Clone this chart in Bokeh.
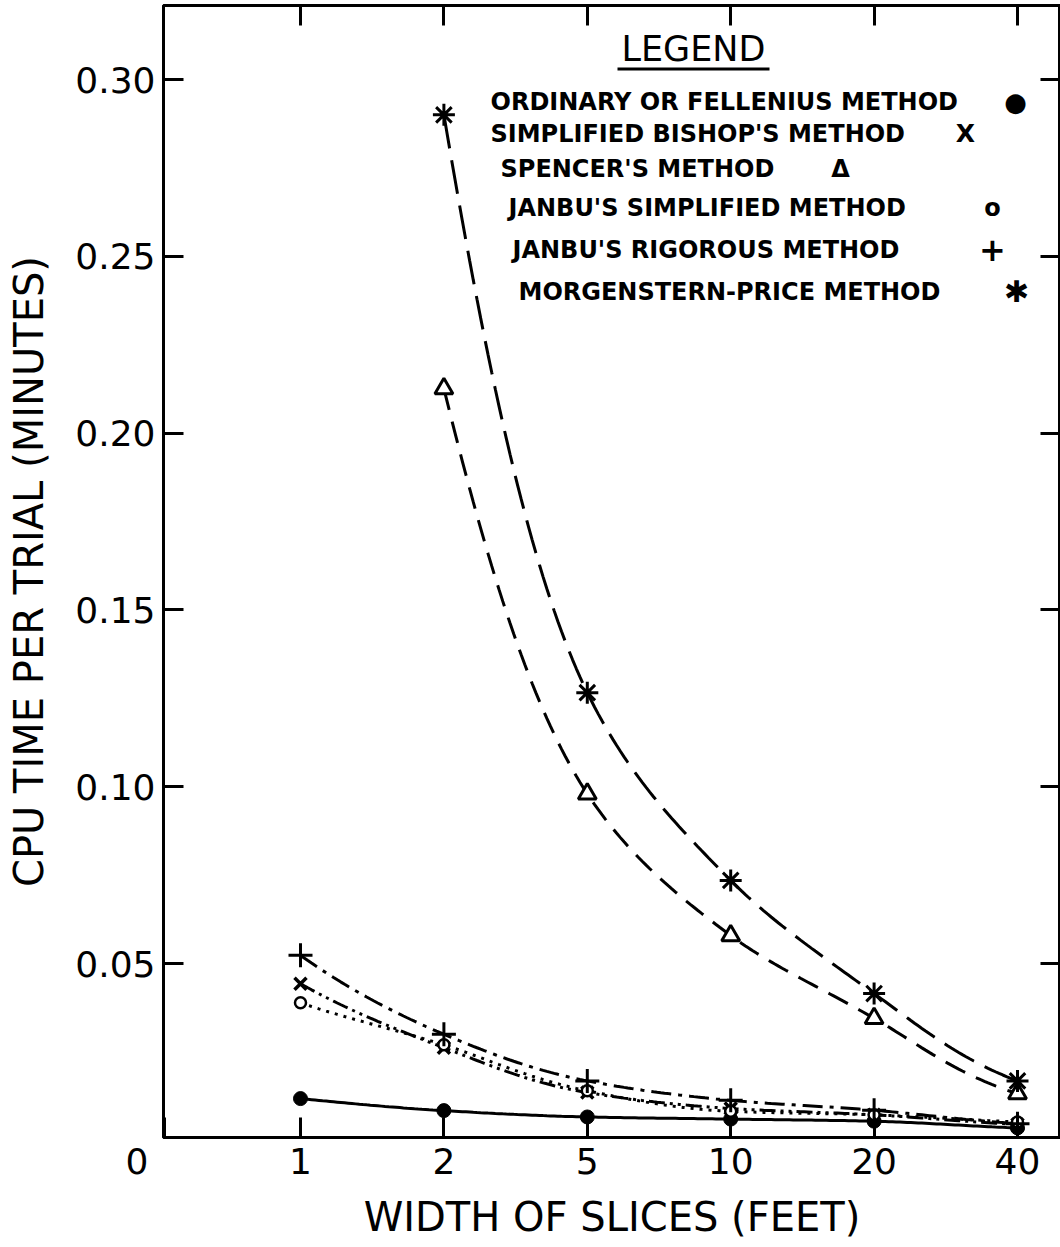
import numpy as np
from bokeh.plotting import figure
from bokeh.models import Range1d, LinearAxis, FixedTicker, Label, BoxAnnotation, PrintfTickFormatter
from bokeh.embed import file_html
from bokeh.resources import INLINE

# ---------------- data ----------------
slice_widths = ["1", "2", "5", "10", "20", "40"]          # feet (categorical, equally spaced)
slice_pos = [1, 2, 3, 4, 5, 6]

ordinary = [0.0118, 0.0084, 0.0066, 0.0060, 0.0054, 0.0035]
bishop = [0.0443, 0.0262, 0.0135, 0.0090, 0.0072, 0.0045]
janbu_simplified = [0.0389, 0.0270, 0.0140, 0.0082, 0.0072, 0.0052]
janbu_rigorous = [0.0523, 0.0300, 0.0168, 0.0113, 0.0085, 0.0047]
spencer = [None, 0.2126, 0.0980, 0.0579, 0.0345, 0.0132]
morgenstern = [None, 0.2900, 0.1266, 0.0735, 0.0415, 0.0168]

y_ticks = [0.05, 0.10, 0.15, 0.20, 0.25, 0.30]
origin_label = "0"

legend_names = ["ORDINARY OR FELLENIUS METHOD", "SIMPLIFIED BISHOP'S METHOD", "SPENCER'S METHOD",
                "JANBU'S SIMPLIFIED METHOD", "JANBU'S RIGOROUS METHOD", "MORGENSTERN-PRICE METHOD"]
legend_symbols = ["\u25cf", "X", "\u0394", "o", "+", "\u2731"]

# ---------------- geometry (page pixels) ----------------
W, H = 1060, 1245
X1_PX, DX_PX = 300.0, 143.4       # pixel of position 1, pixels per step
Y0_PX, DY_PX = 1139.8, 3536.0     # pixel of y=0, pixels per unit
FR_L, FR_R, FR_T, FR_B = 163, 1060, 5, 1137


def px2x(px):
    return 1 + (px - X1_PX) / DX_PX


def py2y(py):
    return (Y0_PX - py) / DY_PX


def smooth(xs, ys, n=40):
    """monotone cubic (log-y) path through the data points, for drawing only"""
    pts = [(x, y) for x, y in zip(xs, ys) if y is not None]
    x = np.array([p[0] for p in pts], float)
    y = np.log(np.array([p[1] for p in pts], float))
    h = np.diff(x)
    d = np.diff(y) / h
    m = np.zeros_like(y)
    m[0], m[-1] = d[0], d[-1]
    for k in range(1, len(y) - 1):
        if d[k - 1] * d[k] <= 0:
            m[k] = 0
        else:
            w1 = 2 * h[k] + h[k - 1]
            w2 = h[k] + 2 * h[k - 1]
            m[k] = (w1 + w2) / (w1 / d[k - 1] + w2 / d[k])
    ox, oy = [], []
    for k in range(len(x) - 1):
        t = np.linspace(0, 1, n)
        h00 = 2 * t**3 - 3 * t**2 + 1
        h10 = t**3 - 2 * t**2 + t
        h01 = -2 * t**3 + 3 * t**2
        h11 = t**3 - t**2
        yy = h00 * y[k] + h10 * h[k] * m[k] + h01 * y[k + 1] + h11 * h[k] * m[k + 1]
        ox.extend(list(x[k] + t * h[k]))
        oy.extend(list(np.exp(yy)))
    return ox, oy


FONT = "DejaVu Sans"

p = figure(width=W, height=H,
           x_range=Range1d(px2x(FR_L), px2x(FR_R)),
           y_range=Range1d(py2y(FR_B), py2y(FR_T)),
           output_backend="svg", toolbar_location=None,
           min_border_left=FR_L, min_border_right=W - FR_R,
           min_border_top=FR_T, min_border_bottom=H - FR_B)
p.grid.visible = False
p.outline_line_color = "black"
p.outline_line_width = 3
p.background_fill_color = "white"
p.border_fill_color = "white"

# x axis (origin "0" shown at the frame's left corner, padded so it sits left of the corner)
origin_pos = px2x(FR_L + 0.5)
xa = p.xaxis[0]
xa.ticker = FixedTicker(ticks=[origin_pos] + slice_pos)
overrides = {pos: lab for pos, lab in zip(slice_pos, slice_widths)}
overrides[origin_pos] = origin_label + "\u2003\u2002"
xa.major_label_overrides = overrides
xa.axis_label = "WIDTH OF SLICES (FEET)"
# y axis
ya = p.yaxis[0]
ya.ticker = FixedTicker(ticks=y_ticks)
ya.formatter = PrintfTickFormatter(format="%.2f")
ya.axis_label = "CPU TIME PER TRIAL (MINUTES)"

for ax in (xa, ya):
    ax.axis_line_width = 3
    ax.major_tick_line_width = 3
    ax.major_tick_in = 20
    ax.major_tick_out = 0
    ax.minor_tick_line_color = None
    ax.major_label_text_font = FONT
    ax.major_label_text_font_size = "36px"
    ax.major_label_text_color = "black"
    ax.axis_label_text_font = FONT
    ax.axis_label_text_font_size = "40px"
    ax.axis_label_text_font_style = "normal"
    ax.axis_label_text_color = "black"
xa.major_label_standoff = 3
xa.axis_label_standoff = 9
ya.major_label_standoff = 8
ya.axis_label_standoff = 20

# top and right: inward ticks only (no labels)
top = LinearAxis(ticker=FixedTicker(ticks=slice_pos), major_label_text_font_size="0px",
                 major_label_text_color=None,
                 major_label_standoff=0, major_tick_in=20, major_tick_out=0,
                 major_tick_line_width=3, axis_line_width=3, minor_tick_line_color=None)
right = LinearAxis(ticker=FixedTicker(ticks=y_ticks), major_label_text_font_size="0px",
                   major_label_text_color=None,
                   major_label_standoff=0, major_tick_in=20, major_tick_out=0,
                   major_tick_line_width=3, axis_line_width=3, minor_tick_line_color=None)
p.add_layout(top, "above")
p.add_layout(right, "right")

# ---------------- curves ----------------
series = [
    (ordinary, "solid", "circle", dict(size=14, fill_color="black", line_width=1)),
    (bishop, "16 5 3 5 3 5", "x", dict(size=17, line_width=3.5)),
    (janbu_simplified, "3 6", "circle", dict(size=11, fill_color="white", line_width=2.5)),
    (janbu_rigorous, "20 7 4 7", "cross", dict(size=24, line_width=3)),
    (spencer, "22 12", "triangle", dict(size=18, fill_color="white", line_width=3)),
    (morgenstern, "34 12", "asterisk", dict(size=22, line_width=3)),
]
for vals, dash, marker, mk in series:
    sx, sy = smooth(slice_pos, vals)
    p.line(sx, sy, line_color="black", line_width=3, line_dash=dash)
    xs = [x for x, v in zip(slice_pos, vals) if v is not None]
    ys = [v for v in vals if v is not None]
    p.scatter(xs, ys, marker=marker, line_color="black", **mk)

# ---------------- legend (text) ----------------
p.add_layout(Label(x=px2x(693), y=py2y(48), text="LEGEND", text_font=FONT, text_font_size="35px",
                   text_align="center", text_baseline="middle", text_color="black"))
p.add_layout(BoxAnnotation(left=px2x(617), right=px2x(769), top=py2y(67), bottom=py2y(70),
                           fill_color="black", fill_alpha=1, line_color=None))
name_x = [490, 490, 500, 508, 512, 518]
row_y = [101, 133, 168, 207, 249, 291]
sym_x = [1015, 965, 840, 992, 992, 1016]
sym_size = ["26px", "25px", "24px", "24px", "32px", "30px"]
for name, sym, nx, ry, sx, ss in zip(legend_names, legend_symbols, name_x, row_y, sym_x, sym_size):
    p.add_layout(Label(x=px2x(nx), y=py2y(ry), text=name, text_font=FONT, text_font_size="24px",
                       text_font_style="bold", text_align="left", text_baseline="middle",
                       text_color="black"))
    p.add_layout(Label(x=px2x(sx), y=py2y(ry), text=sym, text_font=FONT, text_font_size=ss,
                       text_font_style="bold", text_align="center", text_baseline="middle",
                       text_color="black"))

open("out.html", "w").write(file_html(p, INLINE))
